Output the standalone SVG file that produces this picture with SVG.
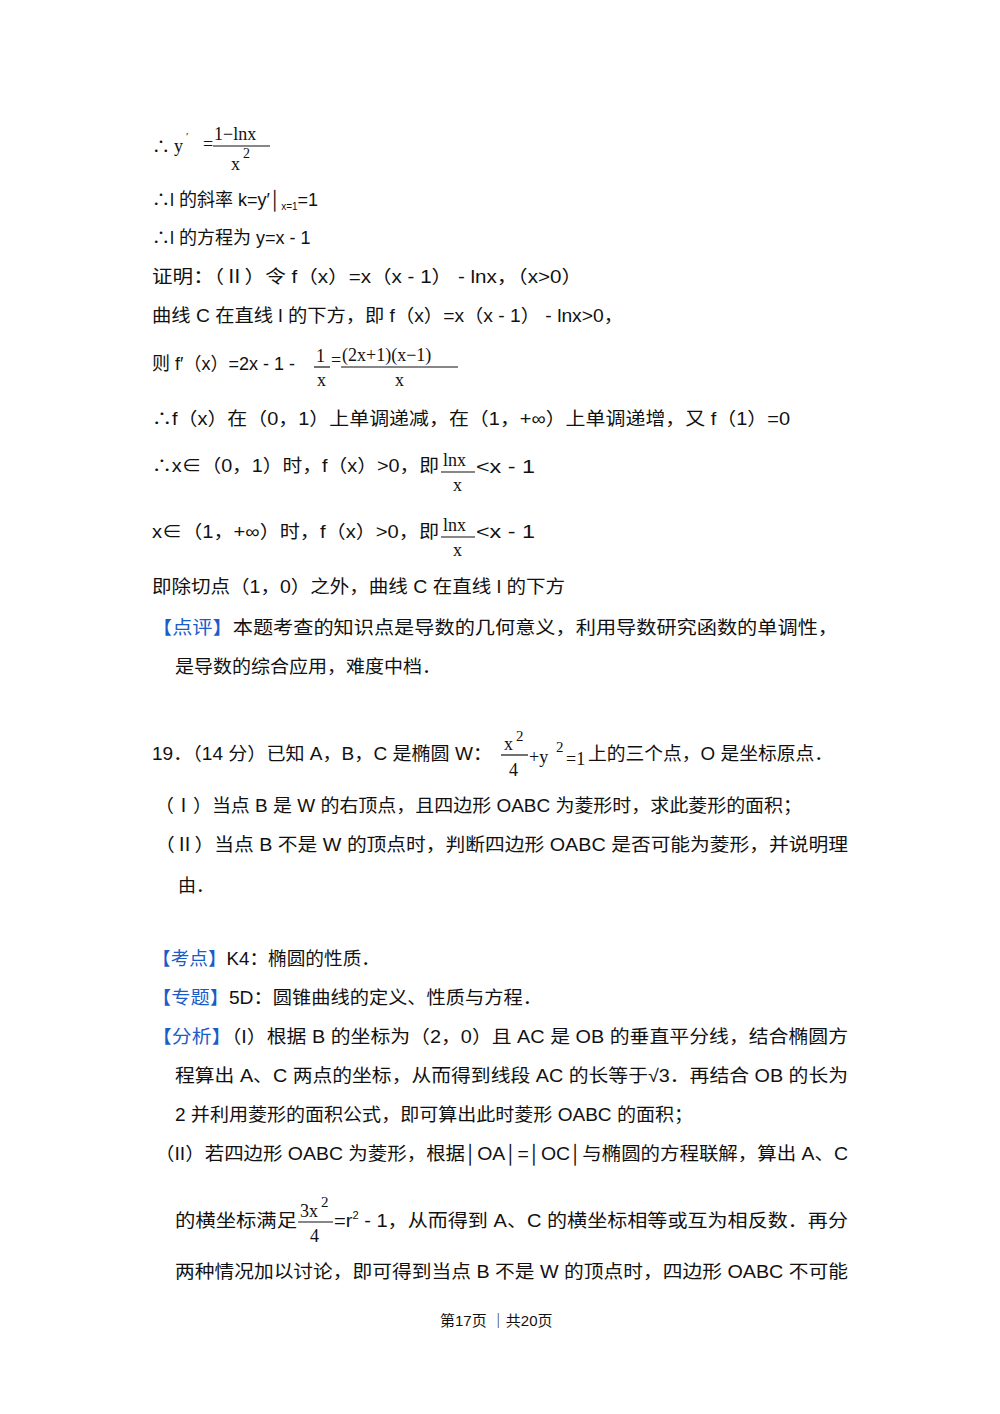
<svg xmlns="http://www.w3.org/2000/svg" width="1000" height="1414" viewBox="0 0 1000 1414">
<style>
text{font-family:"Liberation Sans","Noto Sans CJK SC",sans-serif;font-size:18px;fill:#111}
.m{font-family:"Liberation Serif","Noto Sans CJK SC",serif;font-size:18px}
.s{font-size:11px}
.b{fill:#1a5cc8}
.f{font-size:15px}
line{stroke:#111;stroke-width:1.2}
</style>
<rect width="1000" height="1414" fill="#fff"/>
<text x="152" y="153">∴</text><text class="m" x="174" y="152">y</text><text class="m s" x="186" y="140">′</text>
<text class="m" x="203" y="150">=</text><text class="m" x="214" y="140">1−lnx</text><line x1="213" y1="146" x2="270" y2="146"/>
<text class="m" x="231" y="170">x</text><text class="m s" x="243" y="158" style="font-size:14px">2</text>
<text x="152" y="206">∴l 的斜率 k=y′│<tspan font-size="10" dy="4">x=1</tspan><tspan dy="-4">=1</tspan></text>
<text x="152" y="244">∴l 的方程为 y=x - 1</text>
<text x="152" y="283" textLength="430" lengthAdjust="spacingAndGlyphs">证明：（Ⅱ）令 f（x）=x（x - 1） - lnx，（x&gt;0）</text>
<text x="152" y="322" textLength="471" lengthAdjust="spacingAndGlyphs">曲线 C 在直线 l 的下方，即 f（x）=x（x - 1） - lnx&gt;0，</text>
<text x="152" y="370">则 f′（x）=2x - 1 - </text>
<text class="m" x="316" y="362">1</text><line x1="314" y1="367" x2="330" y2="367"/><text class="m" x="317" y="386">x</text>
<text class="m" x="331" y="366">=</text><text class="m" x="342" y="361">(2x+1)(x−1)</text><line x1="341" y1="367" x2="458" y2="367"/><text class="m" x="395" y="386">x</text>
<text x="152" y="425" textLength="638" lengthAdjust="spacingAndGlyphs">∴f（x）在（0，1）上单调递减，在（1，+∞）上单调递增，又 f（1）=0</text>
<text x="152" y="472" textLength="287" lengthAdjust="spacingAndGlyphs">∴x∈（0，1）时，f（x）&gt;0，即</text>
<text class="m" x="443" y="466">lnx</text><line x1="441" y1="472" x2="475" y2="472"/><text class="m" x="453" y="491">x</text><text x="476" y="473" textLength="59" lengthAdjust="spacingAndGlyphs">&lt;x - 1</text>
<text x="152" y="538" textLength="287" lengthAdjust="spacingAndGlyphs">x∈（1，+∞）时，f（x）&gt;0，即</text>
<text class="m" x="443" y="531">lnx</text><line x1="441" y1="537" x2="475" y2="537"/><text class="m" x="453" y="556">x</text><text x="476" y="538" textLength="59" lengthAdjust="spacingAndGlyphs">&lt;x - 1</text>
<text x="152" y="593" textLength="413" lengthAdjust="spacingAndGlyphs">即除切点（1，0）之外，曲线 C 在直线 l 的下方</text>
<text x="152" y="634" textLength="686" lengthAdjust="spacingAndGlyphs"><tspan class="b">【点评】</tspan>本题考查的知识点是导数的几何意义，利用导数研究函数的单调性，</text>
<text x="175" y="673" textLength="266" lengthAdjust="spacingAndGlyphs">是导数的综合应用，难度中档．</text>
<text x="152" y="760" textLength="340" lengthAdjust="spacingAndGlyphs">19．（14 分）已知 A，B，C 是椭圆 W：</text>
<text class="m" x="504" y="750">x</text><text class="m f" x="516" y="741">2</text><line x1="501" y1="755" x2="528" y2="755"/><text class="m" x="509" y="776">4</text>
<text class="m" x="529" y="763">+y</text><text class="m f" x="556" y="752">2</text><text class="m" x="566" y="765">=1</text>
<text x="588" y="760" textLength="245" lengthAdjust="spacingAndGlyphs">上的三个点，O 是坐标原点．</text>
<text x="155" y="812" textLength="647" lengthAdjust="spacingAndGlyphs">（Ⅰ）当点 B 是 W 的右顶点，且四边形 OABC 为菱形时，求此菱形的面积；</text>
<text x="155" y="851" textLength="693" lengthAdjust="spacingAndGlyphs">（Ⅱ）当点 B 不是 W 的顶点时，判断四边形 OABC 是否可能为菱形，并说明理</text>
<text x="178" y="892">由．</text>
<text x="152" y="965" textLength="228" lengthAdjust="spacingAndGlyphs"><tspan class="b">【考点】</tspan>K4：椭圆的性质．</text>
<text x="152" y="1004" textLength="390" lengthAdjust="spacingAndGlyphs"><tspan class="b">【专题】</tspan>5D：圆锥曲线的定义、性质与方程．</text>
<text x="152" y="1043" textLength="696" lengthAdjust="spacingAndGlyphs"><tspan class="b">【分析】</tspan>（I）根据 B 的坐标为（2，0）且 AC 是 OB 的垂直平分线，结合椭圆方</text>
<text x="175" y="1082" textLength="673" lengthAdjust="spacingAndGlyphs">程算出 A、C 两点的坐标，从而得到线段 AC 的长等于√3．再结合 OB 的长为</text>
<text x="175" y="1121" textLength="518" lengthAdjust="spacingAndGlyphs">2 并利用菱形的面积公式，即可算出此时菱形 OABC 的面积；</text>
<text x="155" y="1160" textLength="693" lengthAdjust="spacingAndGlyphs">（II）若四边形 OABC 为菱形，根据│OA│=│OC│与椭圆的方程联解，算出 A、C</text>
<text x="175" y="1227" textLength="122" lengthAdjust="spacingAndGlyphs">的横坐标满足</text>
<text class="m" x="300" y="1217">3x</text><text class="m f" x="321" y="1207">2</text><line x1="298" y1="1222" x2="333" y2="1222"/><text class="m" x="310" y="1242">4</text>
<text x="334" y="1227" textLength="514" lengthAdjust="spacingAndGlyphs">=r<tspan font-size="10" dy="-8">2</tspan><tspan dy="8"> - 1，从而得到 A、C 的横坐标相等或互为相反数．再分</tspan></text>
<text x="175" y="1278" textLength="673" lengthAdjust="spacingAndGlyphs">两种情况加以讨论，即可得到当点 B 不是 W 的顶点时，四边形 OABC 不可能</text>
<text x="440" y="1326" style="font-size:15px">第17页  ｜共20页</text>
</svg>
